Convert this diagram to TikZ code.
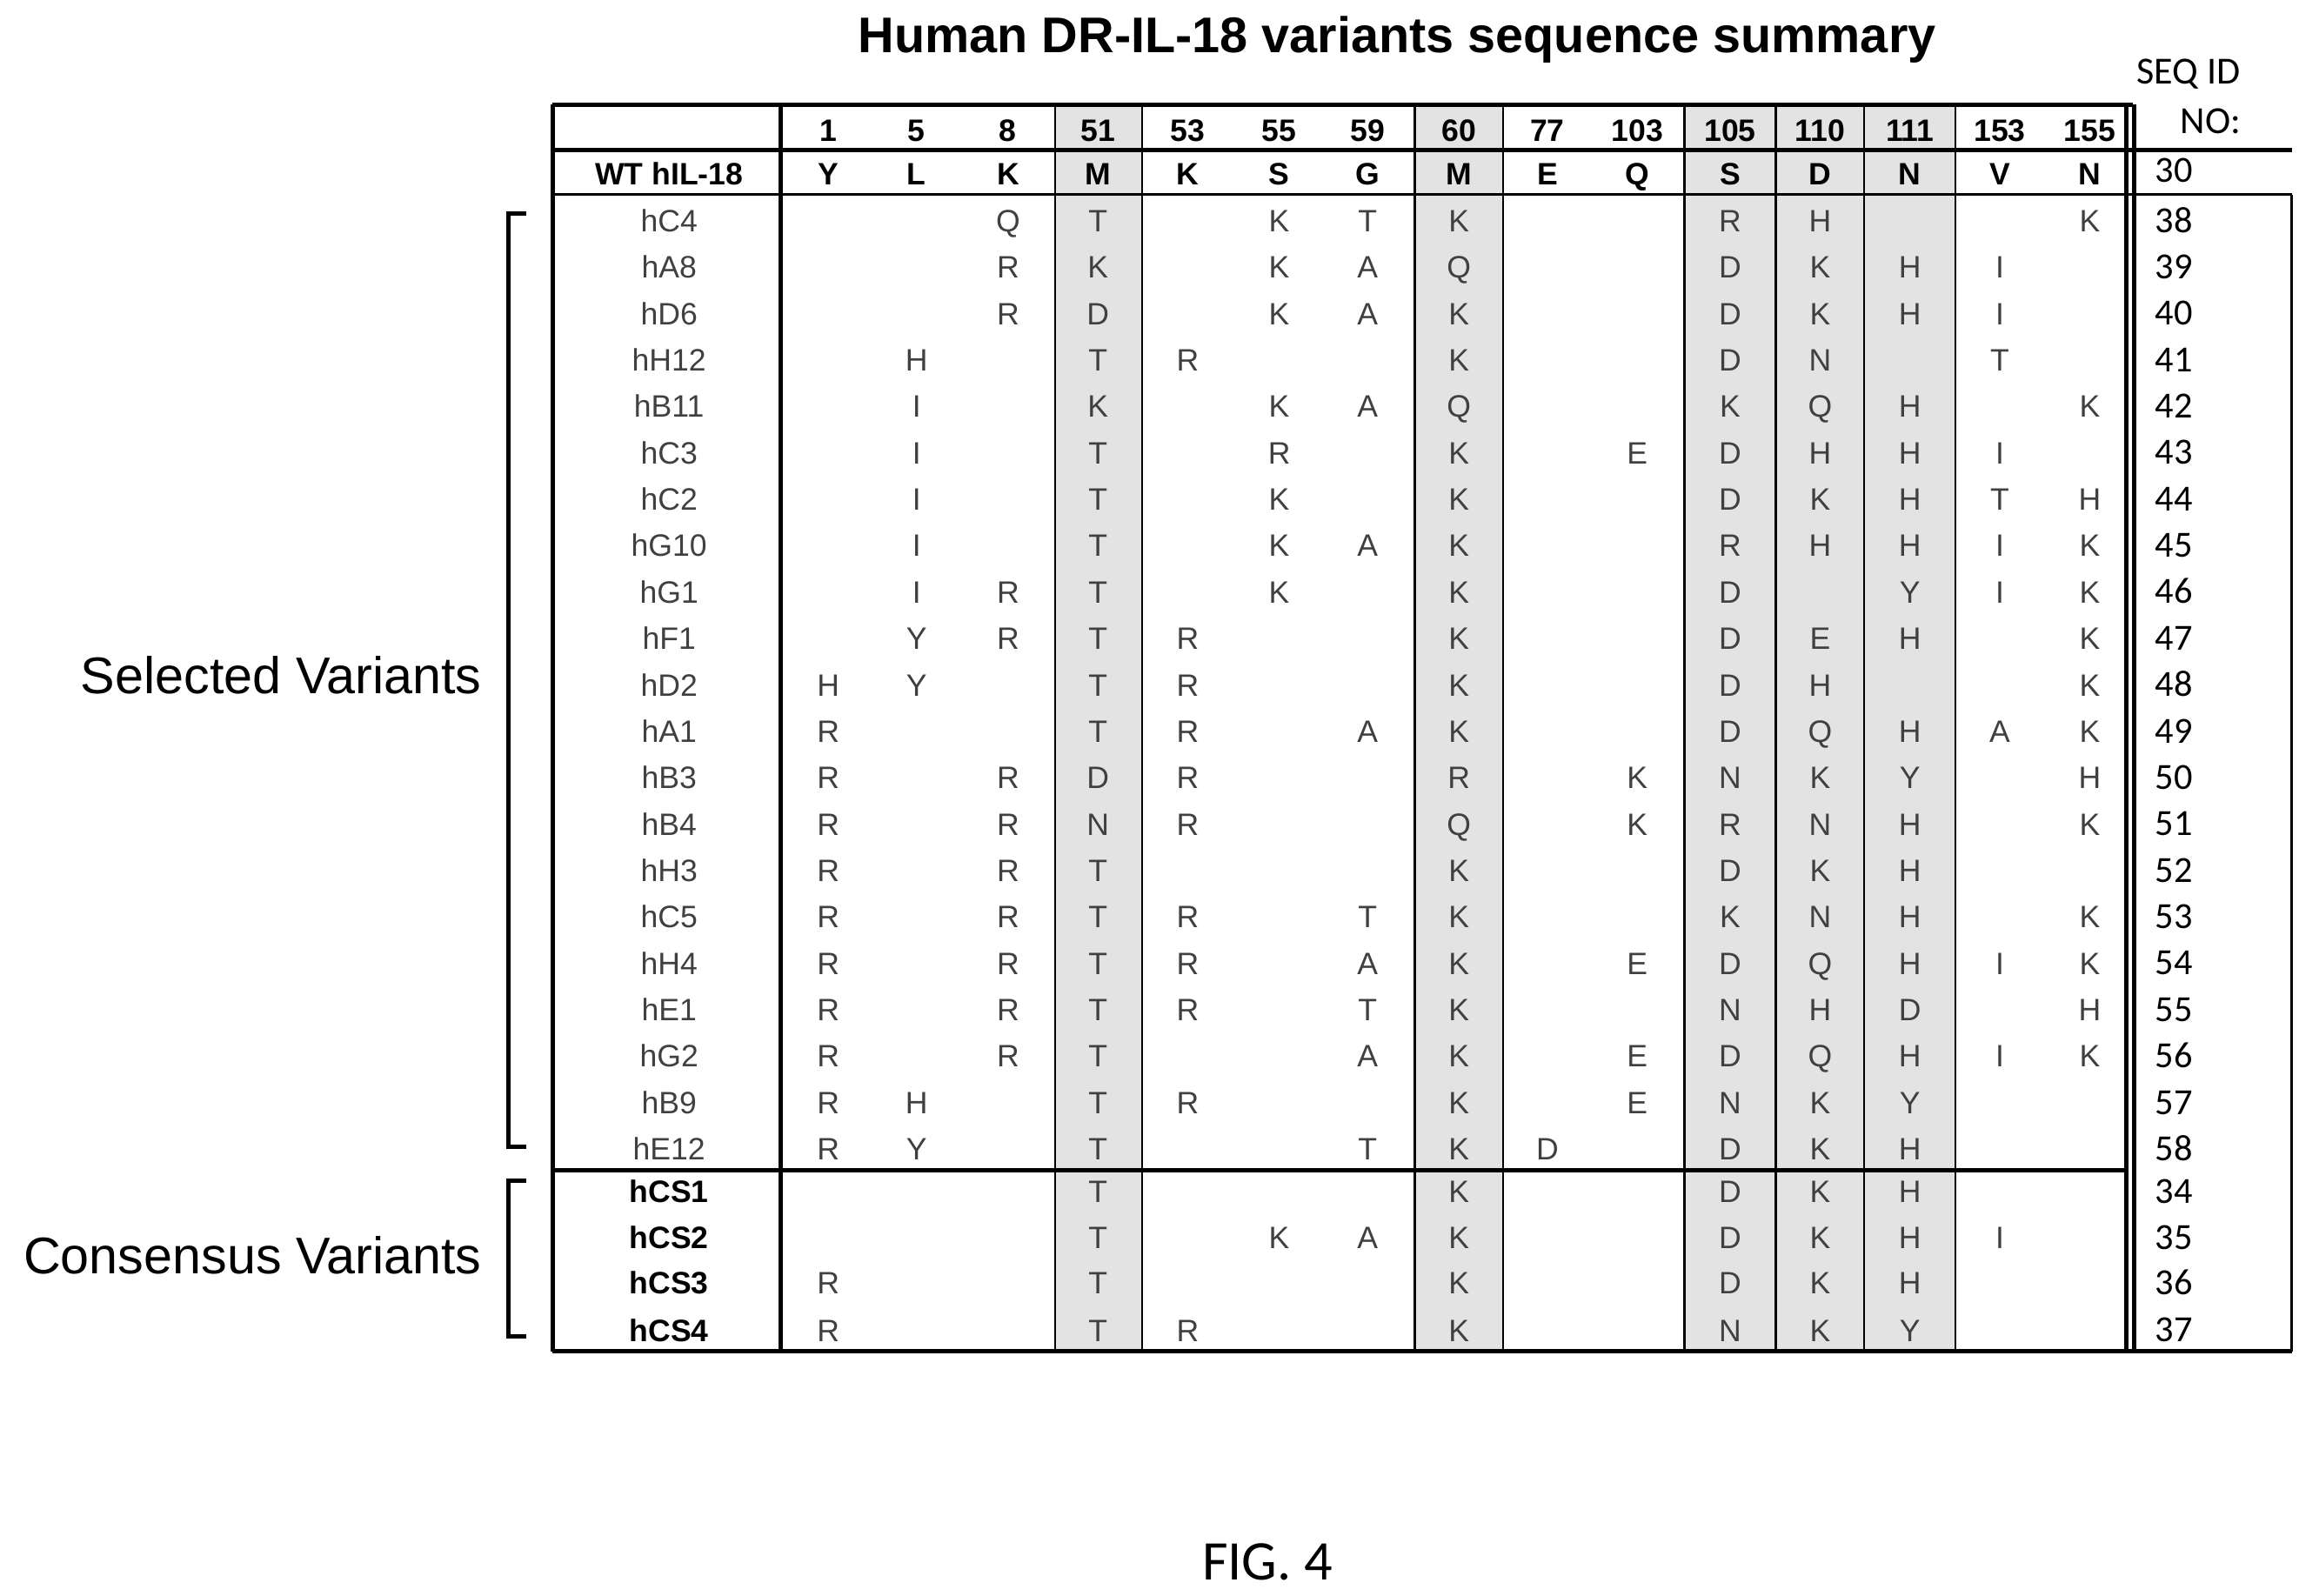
\documentclass[tikz,border=0pt]{standalone}
\usepackage{fontspec}
\setmainfont{Liberation Sans}
\newfontfamily\calib{Carlito}
\usepackage{tikz}

\def\colx{{562,622,684,745,806,868,928,990,1050,1111,1174,1235,1296,1357,1418}}
\newcommand{\varrow}[5]{% row y, name, entries, seq id, name font
  \node[namecell] (n#4) at (454,#1) {#5#2};
  \foreach \v [count=\c] in {#3} {
    \pgfmathparse{\colx[\c-1]}
    \node[rescell] at (\pgfmathresult,#1) {\v};
  }
  \node[seqcell] (s#4) at (1462,#1) {#4};
}

\begin{document}
\begin{tikzpicture}[x=0.5pt, y=-0.5pt,
    every node/.style = {inner sep=0pt},
    namecell/.style = {font=\fontsize{10.5}{12}\selectfont, text=black!75, text height=7.6pt, text depth=0.4pt},
    rescell/.style = {font=\fontsize{10.5}{12}\selectfont, text=black!75, text height=7.6pt, text depth=0.4pt},
    headcell/.style = {font=\fontsize{10.5}{12}\selectfont\bfseries, text height=7.6pt, text depth=0.4pt},
    seqcell/.style = {anchor=west, font=\calib\fontsize{12.5}{14}\selectfont, text height=8pt, text depth=0.4pt},
    shade/.style = {fill=gray!22, draw=none},
    thickline/.style = {line width=1.5pt},
    thinline/.style = {line width=0.7pt}
  ]
  \useasboundingbox (0,0) rectangle (1560,1083);

  % shaded columns
  \foreach \a/\b in {716/775, 960/1020, 1143/1205, 1205/1265, 1265/1327}
    \fill[shade] (\a,71) rectangle (\b,917);

  % title
  \node[font=\fontsize{17}{20}\selectfont\bfseries] (title) at (948,27) {Human DR-IL-18 variants sequence summary};
  \node[font=\calib\fontsize{13}{15}\selectfont] (seqa) at (1485,50) {SEQ ID};
  \node[font=\calib\fontsize{13}{15}\selectfont] (seqb) at (1500,82) {NO:};

  % header
  \foreach \h [count=\c] in {1,5,8,51,53,55,59,60,77,103,105,110,111,153,155} {
    \pgfmathparse{\colx[\c-1]}
    \node[headcell] at (\pgfmathresult,89) {\h};
  }
  \node[headcell] (wt) at (454,118) {WT hIL-18};
  \foreach \h [count=\c] in {Y,L,K,M,K,S,G,M,E,Q,S,D,N,V,N} {
    \pgfmathparse{\colx[\c-1]}
    \node[headcell] at (\pgfmathresult,118) {\h};
  }
  \node[seqcell] (s30) at (1462,116) {30};

  % variants
  \varrow{150}{hC4}{,,Q,T,,K,T,K,,,R,H,,,K}{38}{}
  \varrow{181.5}{hA8}{,,R,K,,K,A,Q,,,D,K,H,I,}{39}{}
  \varrow{213}{hD6}{,,R,D,,K,A,K,,,D,K,H,I,}{40}{}
  \varrow{244.5}{hH12}{,H,,T,R,,,K,,,D,N,,T,}{41}{}
  \varrow{276}{hB11}{,I,,K,,K,A,Q,,,K,Q,H,,K}{42}{}
  \varrow{307.5}{hC3}{,I,,T,,R,,K,,E,D,H,H,I,}{43}{}
  \varrow{339}{hC2}{,I,,T,,K,,K,,,D,K,H,T,H}{44}{}
  \varrow{370.5}{hG10}{,I,,T,,K,A,K,,,R,H,H,I,K}{45}{}
  \varrow{402}{hG1}{,I,R,T,,K,,K,,,D,,Y,I,K}{46}{}
  \varrow{433.5}{hF1}{,Y,R,T,R,,,K,,,D,E,H,,K}{47}{}
  \varrow{465}{hD2}{H,Y,,T,R,,,K,,,D,H,,,K}{48}{}
  \varrow{496.5}{hA1}{R,,,T,R,,A,K,,,D,Q,H,A,K}{49}{}
  \varrow{528}{hB3}{R,,R,D,R,,,R,,K,N,K,Y,,H}{50}{}
  \varrow{559.5}{hB4}{R,,R,N,R,,,Q,,K,R,N,H,,K}{51}{}
  \varrow{591}{hH3}{R,,R,T,,,,K,,,D,K,H,,}{52}{}
  \varrow{622.5}{hC5}{R,,R,T,R,,T,K,,,K,N,H,,K}{53}{}
  \varrow{654}{hH4}{R,,R,T,R,,A,K,,E,D,Q,H,I,K}{54}{}
  \varrow{685.5}{hE1}{R,,R,T,R,,T,K,,,N,H,D,,H}{55}{}
  \varrow{717}{hG2}{R,,R,T,,,A,K,,E,D,Q,H,I,K}{56}{}
  \varrow{748.5}{hB9}{R,H,,T,R,,,K,,E,N,K,Y,,}{57}{}
  \varrow{780}{hE12}{R,Y,,T,,,T,K,D,,D,K,H,,}{58}{}
  \varrow{809}{hCS1}{,,,T,,,,K,,,D,K,H,,}{34}{\bfseries\color{black}}
  \varrow{840}{hCS2}{,,,T,,K,A,K,,,D,K,H,I,}{35}{\bfseries\color{black}}
  \varrow{871}{hCS3}{R,,,T,,,,K,,,D,K,H,,}{36}{\bfseries\color{black}}
  \varrow{903}{hCS4}{R,,,T,R,,,K,,,N,K,Y,,}{37}{\bfseries\color{black}}

  % grid
  \foreach \x in {716,775,960,1020,1143,1205,1265,1327}
    \draw[thinline] (\x,71) -- (\x,917);
  \draw[thickline] (375,71) -- (1447,71);
  \draw[thickline] (375,102) -- (1555,102);
  \draw[thinline] (375,132) -- (1555,132);
  \draw[thickline] (375,794) -- (1443,794);
  \draw[thickline] (375,917) -- (1555,917);
  \draw[thickline] (375,71) -- (375,917);
  \draw[thickline] (530,71) -- (530,917);
  \draw[thickline] (1443,71) -- (1443,917);
  \draw[thickline] (1448,71) -- (1448,917);
  \draw[thinline] (1555,132) -- (1555,917);

  % brackets
  \draw[thickline] (357,145) -- (345,145) -- (345,778) -- (357,778);
  \draw[thickline] (357,801) -- (345,801) -- (345,907) -- (357,907);
  \node[anchor=east, font=\fontsize{17.5}{20}\selectfont] (sel) at (327,458) {Selected Variants};
  \node[anchor=east, font=\fontsize{17.5}{20}\selectfont] (cons) at (327,852) {Consensus Variants};

  \node[font=\calib\fontsize{19}{22}\selectfont] (fig) at (860,1060) {FIG. 4};
\end{tikzpicture}
\end{document}
